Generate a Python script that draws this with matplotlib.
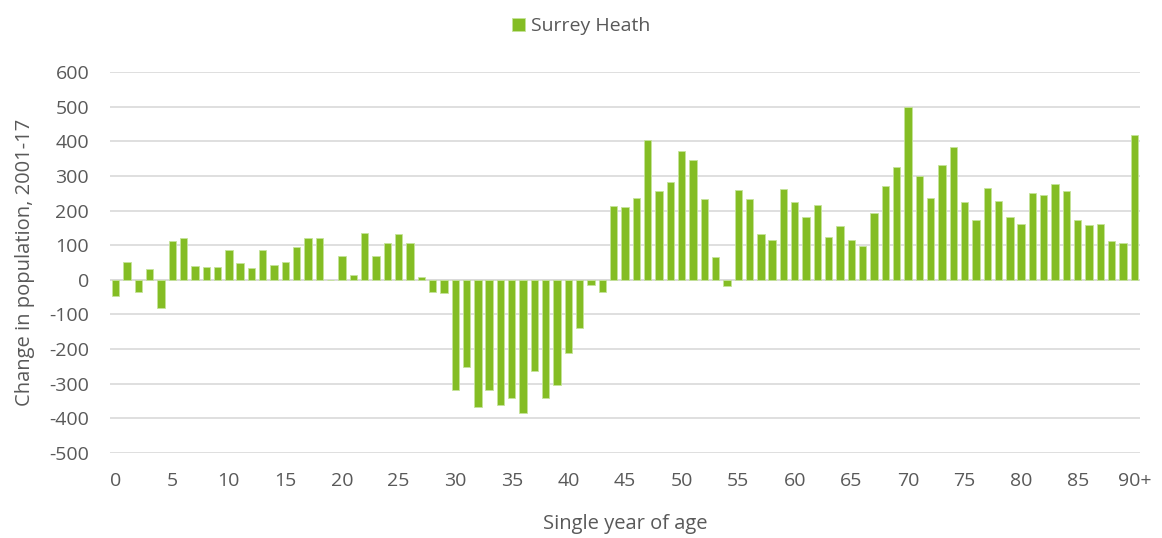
import matplotlib.pyplot as plt
import numpy as np

# change in population 2001-17 by single year of age (0..90+)
ages = list(range(91))
change = [-46, 51, -34, 32, -82, 113, 121, 40, 38, 36,
          87, 50, 33, 87, 43, 52, 94, 120, 121, 0,
          70, 14, 135, 68, 107, 133, 106, 9, -36, -39,
          -318, -252, -366, -318, -361, -342, -384, -263, -340, -304,
          -212, -138, -16, -34, 213, 211, 236, 403, 256, 281,
          372, 346, 232, 65, -18, 258, 234, 131, 116, 261,
          226, 180, 215, 124, 155, 115, 97, 194, 271, 325,
          500, 300, 235, 331, 383, 226, 174, 266, 228, 182,
          161, 250, 244, 278, 256, 174, 157, 161, 111, 105,
          418]
tick_pos = list(range(0, 91, 5))
tick_labels = [str(t) for t in range(0, 90, 5)] + ['90+']

plt.rcParams['font.family'] = ['Open Sans', 'DejaVu Sans']
plt.rcParams['axes.unicode_minus'] = False
grey = '#595959'

fig = plt.figure(figsize=(11.62, 5.38), dpi=100)
ax = fig.add_axes([110/1162, 1-453/538, 1030/1162, 381/538])
ax.bar(ages, change, width=0.65, color='#84bd24', edgecolor='#c5e39a',
       linewidth=0.6, label='Surrey Heath', zorder=3)
ax.set_xlim(-0.5, 90.5)
ax.set_ylim(-500, 600)
ax.set_yticks(np.arange(-500, 601, 100))
ax.set_xticks(tick_pos)
ax.set_xticklabels(tick_labels)
ax.grid(axis='y', color='#d9d9d9', linewidth=1.2, zorder=0)
ax.axhline(0, color='#d9d9d9', linewidth=1.2, zorder=1)
for s in ax.spines.values():
    s.set_visible(False)
ax.tick_params(length=0, labelsize=14, colors=grey)
ax.tick_params(axis='y', pad=15)
ax.tick_params(axis='x', pad=14)
ax.set_xlabel('Single year of age', fontsize=14.5, color=grey, labelpad=17)
ax.set_ylabel('Change in population, 2001-17', fontsize=14.5, color=grey, labelpad=10)
fig.legend(loc='upper center', bbox_to_anchor=(0.5, 1.0), frameon=False,
           fontsize=14, labelcolor=grey, handlelength=0.7, handleheight=0.7,
           handletextpad=0.3)
fig.savefig('out.png', dpi=100)
